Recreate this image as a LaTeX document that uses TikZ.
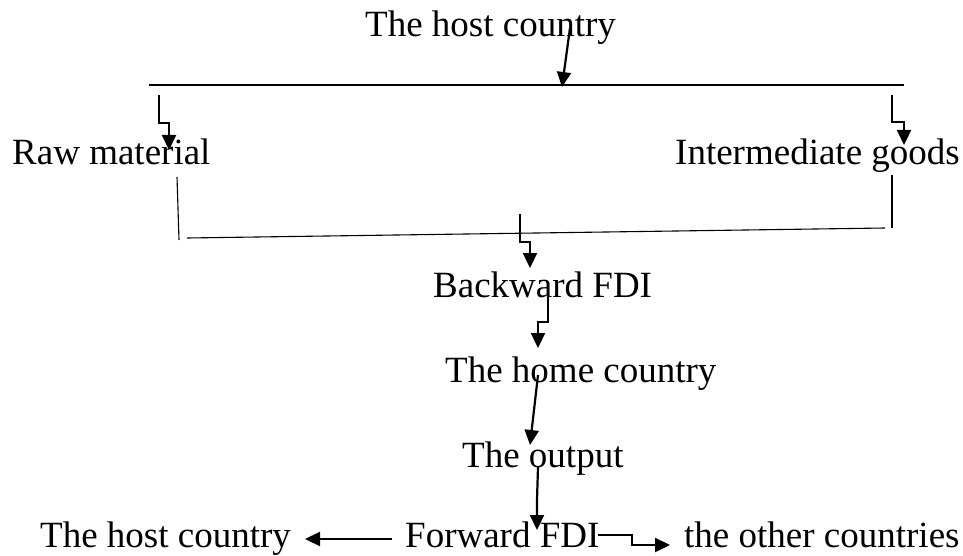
\documentclass[tikz,border=0pt]{standalone}
\usepackage{fontspec}
\setmainfont{Liberation Serif}
\usetikzlibrary{arrows.meta}

\tikzset{
  lbl/.style={inner sep=0pt,anchor=base west,font=\fontsize{37}{44}\selectfont},
  arr/.style={line width=2.2pt,-{Triangle[length=15pt,width=14pt]}},
  bar/.style={line width=1.8pt},
  thin/.style={line width=1.1pt}
}

\begin{document}
\begin{tikzpicture}[x=1pt,y=-1pt]
\useasboundingbox (0,0) rectangle (963,556);
\node[lbl] (host) at (365,37){The host country};
\node[lbl] (raw) at (12,165){Raw material};
\node[lbl] (inter) at (675,165){Intermediate goods};
\node[lbl] (backward) at (433,297){Backward FDI};
\node[lbl] (home) at (445,382){The home country};
\node[lbl] (output) at (462,467){The output};
\node[lbl] (forward) at (405,547){Forward FDI};
\node[lbl] (hostb) at (40,547){The host country};
\node[lbl] (other) at (684,547){the other countries};
% top bar and the drops to both inputs
\coordinate (tl) at (149,85);\coordinate (tr) at (904,85);
\draw[bar] (tl)--(tr);
\coordinate (h0) at (570,28);\coordinate (h1) at (562,87);
\draw[arr] (h0)--(h1);
\coordinate (r0) at (159,95);\coordinate (r1) at (169,150);
\draw[arr] (r0)--(159,123)--(169,123)--(r1);
\coordinate (i0) at (892,95);\coordinate (i1) at (904,145);
\draw[arr] (i0)--(892,122)--(904,122)--(i1);
% lower bracket
\coordinate (bl0) at (177,177);\coordinate (bl1) at (179,240);
\coordinate (br0) at (892,175);\coordinate (br1) at (892,228);
\draw[thin] (bl0)--(bl1);\draw[thin] (br0)--(br1);
\coordinate (ll) at (187,238);\coordinate (lr) at (885,228);
\draw[thin] (ll)--(lr);
% chain down
\coordinate (b0) at (520,214);\coordinate (b1) at (530,268);
\draw[arr] (b0)--(520,242)--(530,242)--(b1);
\coordinate (m0) at (548,295);\coordinate (m1) at (538,348);
\draw[arr] (m0)--(548,322)--(538,322)--(m1);
\coordinate (o0) at (538,375);\coordinate (o1) at (530,445);
\draw[arr] (o0)--(o1);
\coordinate (f0) at (538,467);\coordinate (f1) at (537,530);
\draw[arr] (f0)--(537,500)--(f1);
% forward split
\coordinate (fl0) at (392,539);\coordinate (fl1) at (305,539);
\draw[arr] (fl0)--(fl1);
\coordinate (fr0) at (598,535);\coordinate (fr1) at (670,545);
\draw[arr] (fr0)--(632,535)--(632,545)--(fr1);
\end{tikzpicture}
\end{document}
